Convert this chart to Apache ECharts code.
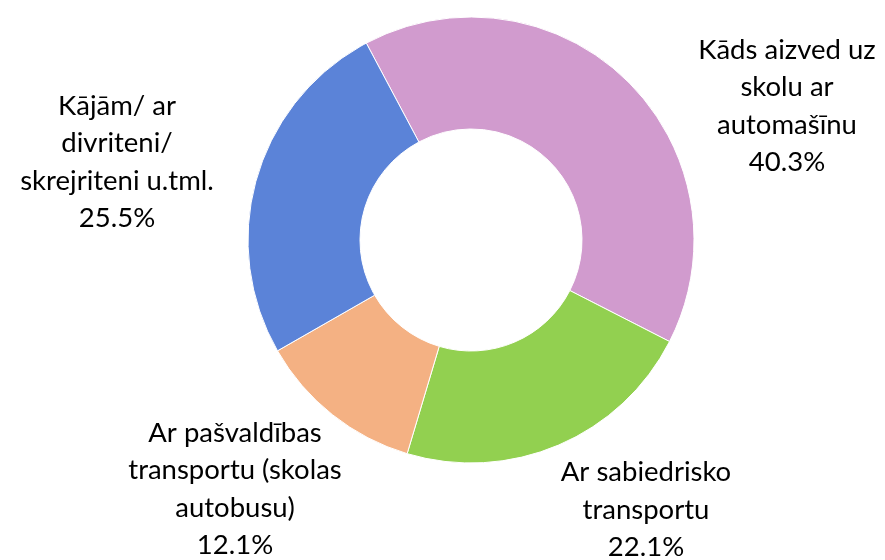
<!DOCTYPE html>
<html>
<head>
<meta charset="utf-8">
<script src="https://cdn.jsdelivr.net/npm/echarts@6/dist/echarts.min.js"></script>
<style>
  html, body { margin: 0; padding: 0; background: #fff; }
  #chart { width: 885px; height: 560px; }
</style>
</head>
<body>
<div id="chart"></div>
<script>
// kategorijas (ar rindu pārnesumiem kā attēlā)
const categories = [
  'Kāds aizved uz\nskolu ar\nautomašīnu',
  'Ar sabiedrisko\ntransportu',
  'Ar pašvaldības\ntransportu (skolas\nautobusu)',
  'Kājām/ ar\ndivriteni/\nskrejriteni u.tml.'
];
const values = [40.3, 22.1, 12.1, 25.5];
const colors = ['#D19BCE', '#92D050', '#F4B183', '#5B83D8'];
// etiķešu centri
const labelX = [787, 646, 235, 117];
const labelY = [106, 510, 489, 162];

var myChart = echarts.init(document.getElementById('chart'));

var option = {
  animation: false,
  series: [
    {
      type: 'pie',
      center: [471, 240],
      radius: [111, 223],
      startAngle: 118,
      clockwise: true,
      itemStyle: {
        borderColor: '#fff',
        borderWidth: 1
      },
      label: {
        show: true,
        position: 'outside',
        color: '#000',
        fontFamily: 'Lato',
        fontSize: 27.5,
        lineHeight: 37.5,
        align: 'center',
        formatter: p => p.name + '\n' + p.value.toFixed(1) + '%'
      },
      labelLine: { show: false },
      labelLayout: p => ({
        x: labelX[p.dataIndex],
        y: labelY[p.dataIndex],
        align: 'center',
        verticalAlign: 'middle'
      }),
      data: categories.map((c, i) => ({
        name: c,
        value: values[i],
        itemStyle: { color: colors[i] }
      }))
    }
  ]
};

myChart.setOption(option);
</script>
</body>
</html>
